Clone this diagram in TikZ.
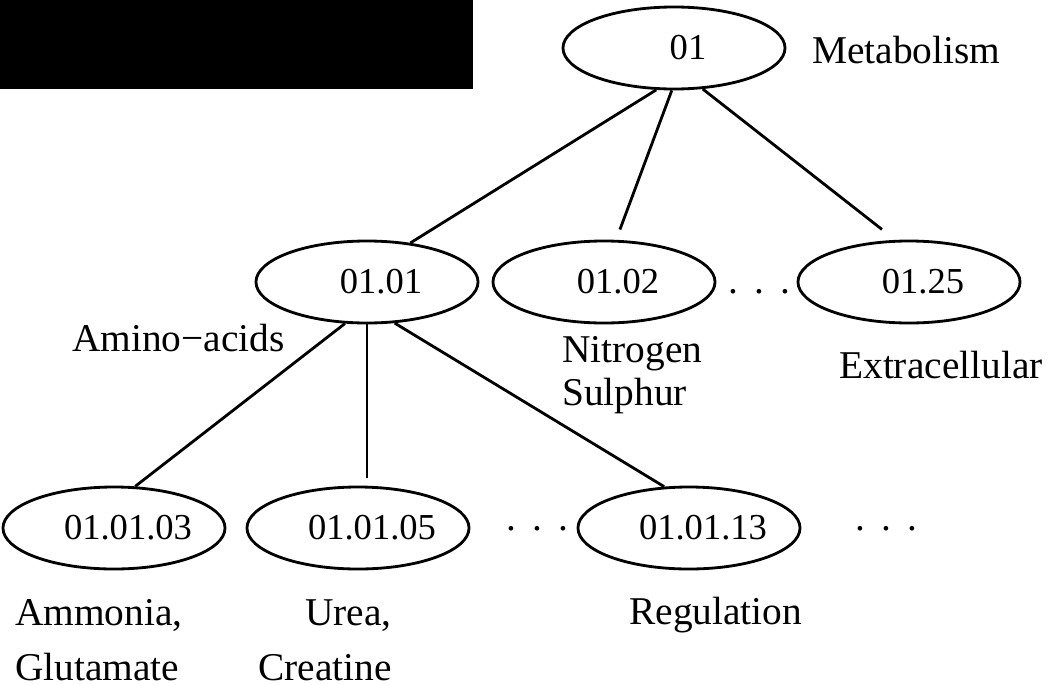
\documentclass[tikz,border=0pt]{standalone}
\usepackage{fontspec}
\setmainfont{Liberation Serif}
\usetikzlibrary{shapes.geometric}
\tikzset{%
  every class/.style={
    ellipse,
    draw,
    line width=2pt,
    minimum width=5.55cm,
    minimum height=2.05cm,
    inner sep=0pt,
    font=\fontsize{26}{30}\selectfont,
    execute at begin node=\hspace*{7mm}
  },
  class name/.style={
    inner sep=0pt,
    font=\fontsize{28}{30}\selectfont
  },
  class dots/.style={
    inner sep=0pt,
    font=\fontsize{28}{30}\selectfont,
    execute at begin node={.\hspace{11.5pt}.\hspace{11.5pt}.}
  },
  link/.style={
    line width=2pt
  },
}

\begin{document}
\begin{tikzpicture}[x=0.025cm, y=-0.025cm]
    \useasboundingbox (0,0) rectangle (1049,684);
    \fill (0,0) rectangle (473,89);

    \node [every class] (c01) at (674,48) {01};

    \foreach \m/\x in {01/367, 02/604, 25/909}
      \node [every class] (c01-\m) at (\x,282) {01.\m};

    \foreach \m/\x in {03/114, 05/358, 13/689}
      \node [every class] (c0101-\m) at (\x,528) {01.01.\m};

    \foreach \x/\y in {759/292, 537/529, 886/529}
      \node [class dots] (dots-\x) at (\x,\y) {};

    % multi-line names sit on the baseline of their last line
    \node [class name, anchor=base west] (name-01) at (812,63) {Metabolism};
    \node [class name, anchor=base west] (name-01-01) at (72,351) {Amino−acids};
    \node [class name, anchor=base west, align=left] (name-01-02) at (562,405) {Nitrogen\\Sulphur};
    \node [class name, anchor=base west] (name-01-25) at (839,378) {Extracellular};
    \node [class name, anchor=base west, align=left, font=\fontsize{28}{39}\selectfont] (name-0101-03) at (15,680) {Ammonia,\\Glutamate};
    \node [class name, anchor=base east, align=right, font=\fontsize{28}{39}\selectfont] (name-0101-05) at (392,680) {Urea,\\Creatine};
    \node [class name, anchor=base west] (name-0101-13) at (629,624) {Regulation};

    \foreach \a/\b/\s in {c01.247/c01-01.42/0, c01.267/c01-02.74/2.75, c01.305/c01-25.108/4.25,
                          c01-01.242/c0101-03.63/0, c01-01.304/c0101-13.121/0}
      \draw [link, shorten >=\s mm] (\a) -- (\b);

    \draw [link, shorten >=2mm] (c01-01.south) -- (c01-01.south |- c0101-05.north);

\end{tikzpicture}
\end{document}
